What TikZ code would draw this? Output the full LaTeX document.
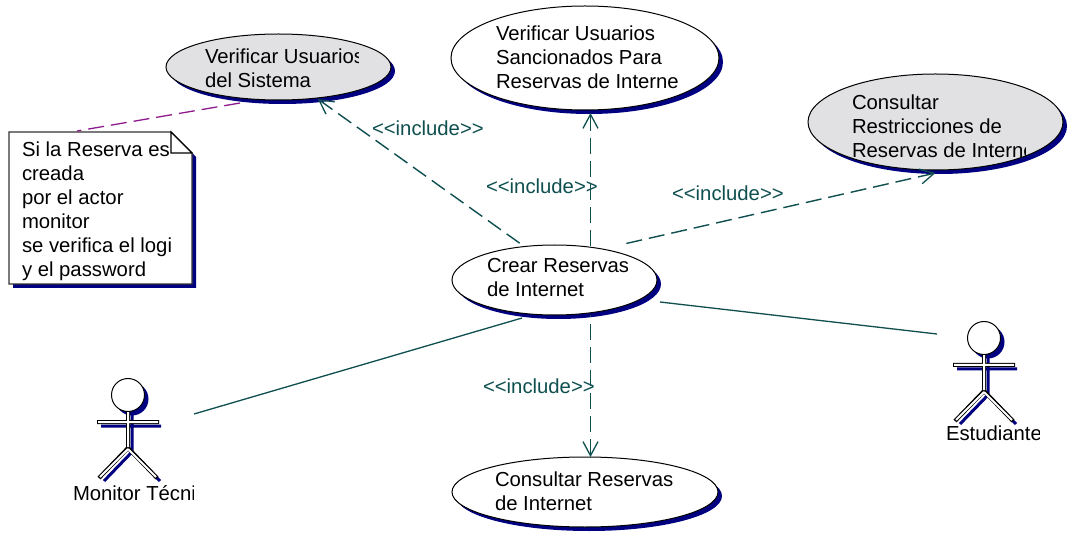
\documentclass[tikz,border=0pt]{standalone}
\usepackage{fontspec}
\setmainfont{Liberation Sans}
\usetikzlibrary{shapes.geometric,shadows,arrows.meta}
\definecolor{navyshadow}{HTML}{000080}
\definecolor{ucgray}{HTML}{E1E1E4}
\definecolor{tealline}{HTML}{0F4F4F}
\definecolor{notelink}{HTML}{8E1A8E}
\tikzset{
  usecase/.style={shape=ellipse,draw=black,line width=1bp,inner sep=0pt,outer sep=0pt,fill=white,
    drop shadow={shadow xshift=4bp,shadow yshift=-4bp,fill=navyshadow,opacity=1}},
  graycase/.style={usecase,fill=ucgray},
  txt/.style={anchor=base west,inner sep=0pt,outer sep=0pt,align=left,text=black,font=\fontsize{20.3bp}{24bp}\selectfont},
  lbl/.style={anchor=base west,inner sep=0pt,outer sep=0pt,text=tealline,font=\fontsize{20.3bp}{24bp}\selectfont},
  incl/.style={draw=tealline,line width=1.4bp,dash pattern=on 16bp off 7bp,{Straight Barb[length=14bp,width=15bp,line width=1.3bp]}-},
  assoc/.style={draw=tealline,line width=1.3bp},
  link/.style={draw=notelink,line width=1.3bp,dash pattern=on 16bp off 7bp},
  limb/.style={line width=4bp,draw=black,line cap=butt},
  limbin/.style={line width=2bp,draw=white,line cap=butt},
  limbsh/.style={line width=3bp,draw=navyshadow},
  actorhead/.style={shape=circle,draw=black,fill=white,line width=1bp,inner sep=0pt,outer sep=0pt,minimum size=33bp},
}
\newcommand{\cliptxt}[7]{% name, x, last baseline, clip x, clip top, clip bottom, text
  \begin{scope}
    \clip (#2-3,#5) rectangle (#4,#6);
    \node[txt] (#1) at (#2,#3) {#7};
  \end{scope}}
\newcommand{\stick}[3]{% name, x, y of head centre
  \begin{scope}[shift={(#2+4,#3+4)}]
    \fill[navyshadow] (0,0) circle (16.5);
    \draw[limbsh] (0,16) -- (0,53) (-31,27) -- (29,27) (0,53) -- (-28,82) (0,53) -- (28,82);
  \end{scope}
  \begin{scope}[shift={(#2,#3)}]
    \draw[limb] (0,16) -- (0,53) (-31,27) -- (31,27) (0,53) -- (-29,83) (0,53) -- (29,83);
    \draw[limbin] (0,17) -- (0,52) (-30,27) -- (30,27) (0,54) -- (-28,82) (0,54) -- (28,82);
    \node[actorhead] (#1) at (0,0) {};
  \end{scope}}
\begin{document}
\begin{tikzpicture}[x=1bp,y=-1bp]
\useasboundingbox (0,0) rectangle (1068,535);
\fill[white] (0,0) rectangle (1068,535);

% use cases
\node[graycase,minimum width=225bp,minimum height=66bp] (vus) at (278.5,67) {};
\node[usecase,minimum width=268bp,minimum height=104bp] (san) at (585,58) {};
\node[graycase,minimum width=255bp,minimum height=96bp] (res) at (935.5,122) {};
\node[usecase,minimum width=205bp,minimum height=70bp] (cre) at (554.5,280) {};
\node[usecase,minimum width=266bp,minimum height=70bp] (con) at (585,492) {};

% note
\node[inner sep=0pt,outer sep=0pt,minimum width=183bp,minimum height=152bp] (note) at (100.5,208) {};
\fill[navyshadow] (13,136) -- (175,136) -- (196,157) -- (196,288) -- (13,288) -- cycle;
\filldraw[fill=white,draw=black!80,line width=1.2bp] (note.north west) -- (171,132) -- (192,153) -- (note.south east) -- (note.south west) -- cycle;
\cliptxt{notetext}{22}{276.5}{170}{134}{283}{Si la Reserva es\\creada\\por el actor\\monitor\\se verifica el login\\y el password}
\draw[draw=black,line width=1.2bp,fill=white] (171,132) -- (171,153) -- (192,153) -- cycle;

% use case texts
\cliptxt{vustext}{205}{88}{358}{40}{100}{Verificar Usuarios\\del Sistema}
\cliptxt{santext}{496}{88.5}{678}{15}{110}{Verificar Usuarios\\Sancionados Para\\Reservas de Internet}
\cliptxt{restext}{852}{157.5}{1025}{85}{168}{Consultar\\Restricciones de\\Reservas de Internet}
\cliptxt{cretext}{487}{297}{627}{250}{312}{Crear Reservas\\de Internet}
\cliptxt{context}{495}{510}{672}{463}{524}{Consultar Reservas\\de Internet}

% actors
\stick{mon}{128}{395}
\stick{est}{984}{338}
\cliptxt{montext}{73}{500}{193}{480}{507}{Monitor Técnico}
\cliptxt{esttext}{946}{440}{1039}{420}{447}{Estudiante}

% connector free ends
\coordinate (linkvus) at (240,103);
\coordinate (linknote) at (77,131);
\coordinate (monend) at (194,414);
\coordinate (estend) at (937,334);
\coordinate (creres) at (624,244);
\coordinate (cremon) at (522,318);
\coordinate (creest) at (660,302);

% connectors
\draw[link] (linkvus) -- (linknote);
\draw[incl] ([xshift=1bp,yshift=-1bp]vus.-39.6) -- (cre.132.9);
\draw[incl] (590.5,113) -- (590.5,247);
\draw[incl] ([yshift=-3bp]res.-90) -- (creres);
\draw[incl] (590.5,457) -- (590.5,315);
\draw[assoc] (cremon) -- (monend);
\draw[assoc] (creest) -- (estend);

% stereotypes
\node[lbl] (inc1) at (372,136) {<{}<include>{}>};
\node[lbl] (inc2) at (486,194) {<{}<include>{}>};
\node[lbl] (inc3) at (672,201) {<{}<include>{}>};
\node[lbl] (inc4) at (483,393) {<{}<include>{}>};
\end{tikzpicture}
\end{document}
